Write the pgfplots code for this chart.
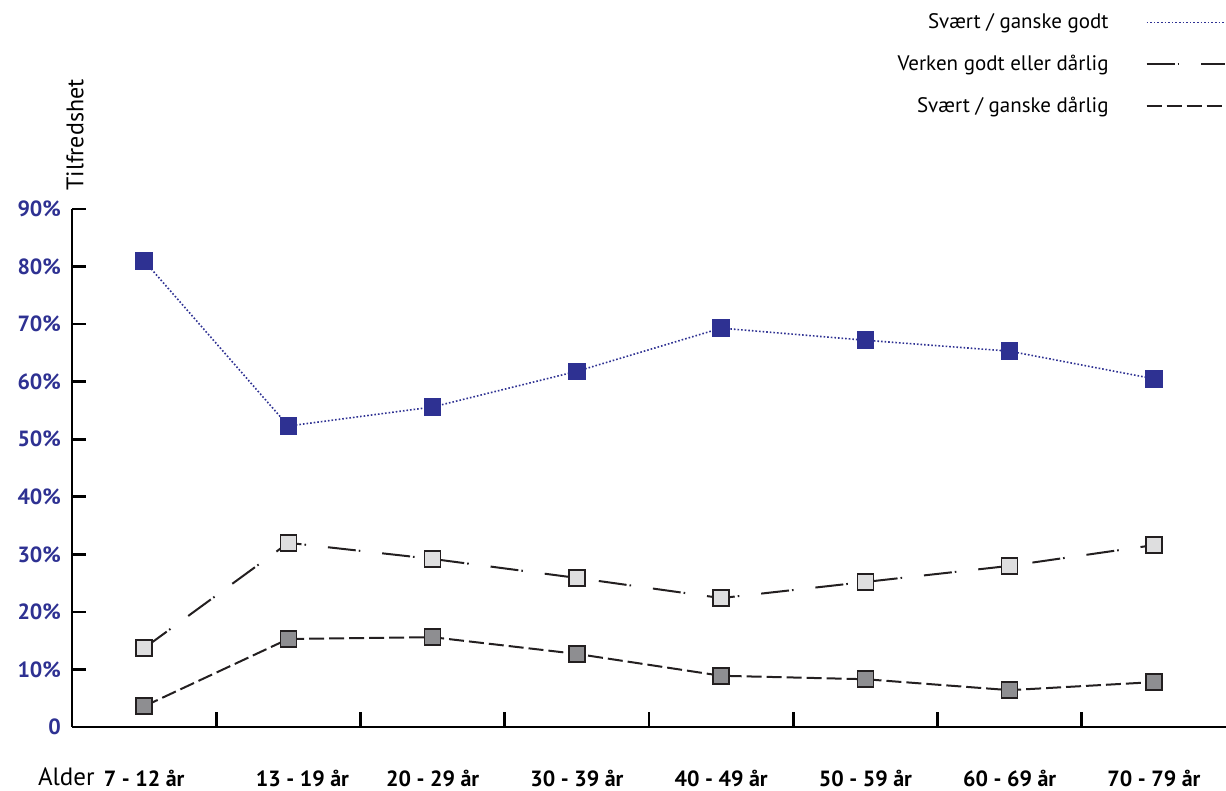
\documentclass[border=0pt]{standalone}
\usepackage{fontspec}
\setmainfont{PT Sans}
\usepackage{pgfplots}
\pgfplotsset{compat=1.18}
\definecolor{myblue}{HTML}{2E3192}
\definecolor{dark}{HTML}{231F20}
\definecolor{lgray}{HTML}{DEDEDF}
\definecolor{mgray}{HTML}{8E8E91}
\begin{document}
\begin{tikzpicture}[x=1pt,y=1pt]
\useasboundingbox (-36,-32) rectangle (577,363.5);
\begin{axis}[
  at={(0,0)}, anchor=south west,
  scale only axis, width=577pt, height=259pt,
  xmin=-0.5, xmax=7.5, ymin=0, ymax=90,
  axis x line=bottom, axis y line=left,
  axis line style={line width=1.3pt, -},
  xtick={0,...,7},
  xticklabels={7 - 12 år,\hspace*{14pt}13 - 19 år,20 - 29 år,30 - 39 år,40 - 49 år,50 - 59 år,60 - 69 år,70 - 79 år},
  minor xtick={0.5,1.5,...,6.5},
  ytick={0,10,...,90},
  yticklabels={0,10\%,20\%,30\%,40\%,50\%,60\%,70\%,80\%,90\%},
  tick align=inside,
  major tick length=7pt, minor tick length=7.5pt,
  major x tick style={draw=none},
  every tick/.style={line width=1.3pt, black},
  minor x tick style={line width=1.3pt, black},
  xticklabel style={font=\fontsize{11}{13}\selectfont\bfseries, anchor=base, yshift=-30pt},
  yticklabel style={font=\fontsize{11}{13}\selectfont\bfseries, text=myblue, xshift=-2pt},
  legend plot pos=right,
  legend cell align=right,
  legend style={at={(axis description cs:1,1.386)}, anchor=north east, draw=none, fill=none,
    font=\fontsize{10.5}{12.5}\selectfont, row sep=7.8pt, column sep=16.5pt, inner sep=0pt},
  legend image code/.code={\draw[#1,mark=none] (0pt,0pt) -- (39pt,0pt);},
  clip=false,
]
\addplot[myblue, line width=0.8pt, densely dotted, mark=square*, mark size=4pt,
  mark options={solid, fill=myblue, draw=myblue}]
  coordinates {(0,81.0) (1,52.3) (2,55.6) (3,61.8) (4,69.3) (5,67.2) (6,65.3) (7,60.5)};
\addlegendentry{Svært / ganske godt}
\addplot[dark, line width=1pt, dash pattern=on 14pt off 1.5pt on 0.8pt off 11pt, mark=square*, mark size=4pt,
  mark options={solid, fill=lgray, draw=dark, line width=0.8pt}]
  coordinates {(0,13.7) (1,32.0) (2,29.2) (3,25.9) (4,22.4) (5,25.2) (6,28.0) (7,31.6)};
\addlegendentry{Verken godt eller dårlig}
\addplot[dark, line width=1pt, dash pattern=on 7.5pt off 2.5pt, mark=square*, mark size=4pt,
  mark options={solid, fill=mgray, draw=dark, line width=0.8pt}]
  coordinates {(0,3.6) (1,15.3) (2,15.6) (3,12.7) (4,8.9) (5,8.3) (6,6.4) (7,7.8)};
\addlegendentry{Svært / ganske dårlig}
\end{axis}
\node[rotate=90, font=\fontsize{12}{14}\selectfont] at (1.5,296) {Tilfredshet};
\node[anchor=base east, font=\fontsize{12.5}{14}\selectfont, inner sep=0pt] at (11.5,-29.5) {Alder};
\end{tikzpicture}
\end{document}
